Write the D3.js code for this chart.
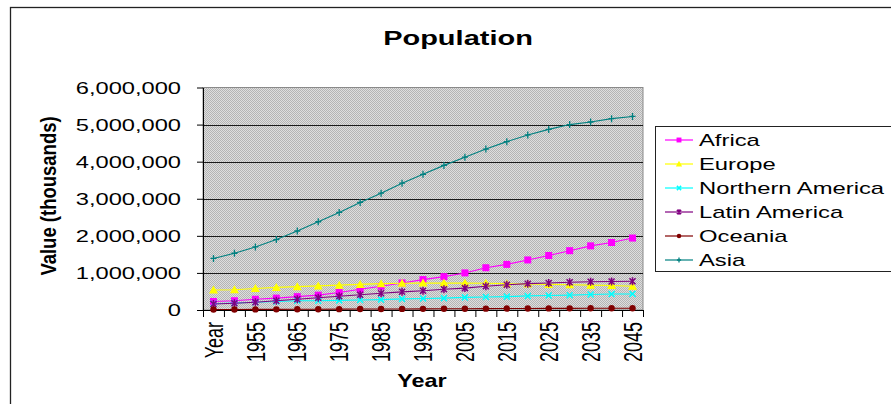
<!DOCTYPE html>
<html>
<head>
<meta charset="utf-8">
<script src="https://cdn.jsdelivr.net/npm/d3@7"></script>
<style>
  html, body { margin: 0; padding: 0; background: #fff; }
  svg { display: block; font-family: Arial, "Liberation Sans", sans-serif; }
</style>
</head>
<body>
<svg id="chart" width="891" height="404"></svg>
<script>
// ---------- data ----------
const categories = ["Year","1950","1955","1960","1965","1970","1975","1980","1985","1990",
  "1995","2000","2005","2010","2015","2020","2025","2030","2035","2040","2045"];
const seriesNames = ["Africa","Europe","Northern America","Latin America","Oceania","Asia"];
const africa   = [230000,250000,290000,320000,360000,400000,470000,560000,640000,730000,820000,900000,1000000,1140000,1230000,1350000,1470000,1600000,1730000,1820000,1940000];
const europe   = [540000,545000,580000,610000,630000,650000,670000,690000,710000,720000,725000,725000,725000,720000,710000,700000,690000,680000,670000,660000,640000];
const nAmerica = [170000,190000,210000,230000,250000,250000,260000,270000,280000,300000,310000,320000,340000,350000,360000,380000,390000,400000,420000,430000,430000];
const latAmerica = [160000,180000,210000,250000,290000,330000,370000,410000,450000,490000,520000,560000,590000,640000,680000,710000,730000,750000,760000,770000,775000];
const oceania  = [13000,14000,16000,18000,20000,21000,23000,25000,27000,29000,31000,33000,35000,37000,39000,41000,43000,44000,46000,47000,48000];
const asia     = [1390000,1530000,1700000,1900000,2130000,2380000,2630000,2900000,3150000,3420000,3660000,3900000,4120000,4340000,4540000,4720000,4870000,5000000,5070000,5160000,5220000];
const yTicks = [0,1000000,2000000,3000000,4000000,5000000,6000000];
const chartTitle = "Population";
const xTitle = "Year";
const yTitle = "Value (thousands)";

const seriesValues = [africa, europe, nAmerica, latAmerica, oceania, asia];
const seriesColors = ["#FF00FF","#FFFF00","#00FFFF","#800080","#800000","#008080"];
const seriesMarkers = ["square","triangle","x","star","circle","plus"];

// ---------- layout ----------
const svg = d3.select("#chart");
const plot = {left: 203, right: 643, top: 87.5, bottom: 310};

const x = d3.scaleBand().domain(categories).range([plot.left, plot.right]).padding(0);
const y = d3.scaleLinear().domain([0, 6000000]).range([plot.bottom, plot.top]);
const cx = c => x(c) + x.bandwidth() / 2;

// pattern for plot area
const defs = svg.append("defs");
const pat = defs.append("pattern").attr("id","hatch").attr("patternUnits","userSpaceOnUse")
  .attr("width",2).attr("height",2);
pat.append("rect").attr("width",2).attr("height",2).attr("fill","#dedede");
pat.append("rect").attr("x",0).attr("y",0).attr("width",1).attr("height",1).attr("fill","#b4b4b4");
pat.append("rect").attr("x",1).attr("y",1).attr("width",1).attr("height",1).attr("fill","#b4b4b4");

// outer chart border
svg.append("rect").attr("x",10.5).attr("y",7.5).attr("width",1000).attr("height",600)
  .attr("fill","#fff").attr("stroke","#222").attr("stroke-width",1.3);

// plot area
svg.append("rect").attr("x",plot.left).attr("y",plot.top)
  .attr("width",plot.right-plot.left).attr("height",plot.bottom-plot.top)
  .attr("fill","url(#hatch)").attr("stroke","#8a8a8a").attr("stroke-width",1);

// gridlines
svg.append("g").selectAll("line").data(yTicks.filter(d => d > 0 && d < 6000000)).join("line")
  .attr("x1",plot.left).attr("x2",plot.right)
  .attr("y1",d => Math.round(y(d))+0.5).attr("y2",d => Math.round(y(d))+0.5)
  .attr("stroke","#1a1a1a").attr("stroke-width",1);

// helper for horizontally stretched text
function stext(parent, tx, ty, str, o) {
  const g = parent.append("g")
    .attr("transform", `translate(${tx},${ty}) scale(${o.sx||1},1)` + (o.rotate ? ` rotate(${o.rotate})` : ""));
  return g.append("text").text(str)
    .attr("text-anchor", o.anchor || "start")
    .attr("font-size", o.size).attr("font-weight", o.weight || "normal")
    .attr("dy", o.dy || 0).attr("fill", "#000");
}

// y axis
const fmt = d3.format(",");
const yAxis = svg.append("g").attr("transform",`translate(${plot.left},0)`)
  .call(d3.axisLeft(y).tickValues(yTicks).tickSize(6).tickSizeOuter(0).tickFormat(fmt));
yAxis.select(".domain").attr("stroke","#000");
yAxis.selectAll(".tick line").attr("stroke","#000");
yAxis.selectAll(".tick text").each(function() {
  const t = d3.select(this);
  const sx = 1.48;
  t.attr("x", -22 / sx).attr("dy","0.35em").attr("transform",`scale(${sx},1)`)
   .attr("font-size",16).attr("font-family","Arial, 'Liberation Sans', sans-serif").attr("fill","#000");
});

// x axis
const xAxisG = svg.append("g");
xAxisG.append("line").attr("x1",plot.left).attr("x2",plot.right)
  .attr("y1",plot.bottom+0.5).attr("y2",plot.bottom+0.5).attr("stroke","#000");
xAxisG.selectAll("line.tk").data(categories.concat(["__end"])).join("line").attr("class","tk")
  .attr("x1",(d,i) => (i < categories.length ? x(d) : plot.right) + 0.5)
  .attr("x2",(d,i) => (i < categories.length ? x(d) : plot.right) + 0.5)
  .attr("y1",plot.bottom).attr("y2",plot.bottom+7).attr("stroke","#000");
categories.forEach((c, i) => {
  if (i % 2 === 0) {
    stext(xAxisG, cx(c), 322, c, {size: 18, sx: 1.45, rotate: -90, anchor: "end", dy: "0.35em"});
  }
});

// marker drawing
function drawMarker(g, type, color, s) {
  s = s || 1;
  if (type === "square") {
    g.append("rect").attr("x",-3.5*s).attr("y",-3.5*s).attr("width",7*s).attr("height",7*s).attr("fill",color);
  } else if (type === "triangle") {
    g.append("path").attr("d", `M0,${-4.5*s}L${4.5*s},${3.5*s}L${-4.5*s},${3.5*s}Z`).attr("fill",color);
  } else if (type === "x") {
    g.append("path").attr("d", `M${-3*s},${-3*s}L${3*s},${3*s}M${-3*s},${3*s}L${3*s},${-3*s}`)
      .attr("stroke",color).attr("stroke-width",1.5);
  } else if (type === "star") {
    g.append("path").attr("d", `M${-3*s},${-3*s}L${3*s},${3*s}M${-3*s},${3*s}L${3*s},${-3*s}M0,${-4*s}L0,${4*s}`)
      .attr("stroke",color).attr("stroke-width",1.5);
  } else if (type === "circle") {
    g.append("circle").attr("r",3.2*s).attr("fill",color);
  } else if (type === "plus") {
    g.append("path").attr("d", `M${-3*s},0L${3*s},0M0,${-3.5*s}L0,${3.5*s}`)
      .attr("stroke",color).attr("stroke-width",1.3);
  }
}

// series lines & markers
const line = d3.line().x((d,i) => cx(categories[i])).y(d => y(d));
const seriesG = svg.append("g");
seriesNames.forEach((name, si) => {
  const vals = seriesValues[si];
  seriesG.append("path").datum(vals).attr("d", line)
    .attr("fill","none").attr("stroke",seriesColors[si]).attr("stroke-width",1.1);
  vals.forEach((v, i) => {
    const mg = seriesG.append("g").attr("transform",`translate(${cx(categories[i])},${y(v)})`);
    drawMarker(mg, seriesMarkers[si], seriesColors[si], 1);
  });
});

// titles
stext(svg, 458, 45, chartTitle, {size: 20, weight: "bold", sx: 1.45, anchor: "middle"});
stext(svg, 422, 387, xTitle, {size: 18, weight: "bold", sx: 1.3, anchor: "middle"});
stext(svg, 56, 196, yTitle, {size: 18.5, weight: "bold", sx: 1.2, anchor: "middle", rotate: -90});

// legend
const leg = svg.append("g");
leg.append("rect").attr("x",655.5).attr("y",126.5).attr("width",300).attr("height",145)
  .attr("fill","#fff").attr("stroke","#222").attr("stroke-width",1);
seriesNames.forEach((name, si) => {
  const ry = 140 + si * 24;
  leg.append("line").attr("x1",665).attr("x2",693).attr("y1",ry).attr("y2",ry)
    .attr("stroke",seriesColors[si]).attr("stroke-width",1.2);
  const mg = leg.append("g").attr("transform",`translate(679,${ry})`);
  drawMarker(mg, seriesMarkers[si], seriesColors[si], 0.7);
  stext(leg, 699, ry, name, {size: 17, sx: 1.4, anchor: "start", dy: "0.35em"});
});
</script>
</body>
</html>
